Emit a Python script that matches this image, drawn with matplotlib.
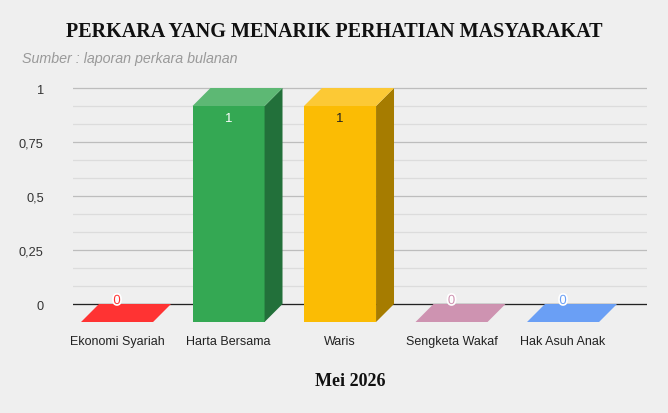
import matplotlib
matplotlib.use("Agg")
import matplotlib.pyplot as plt
import matplotlib.patheffects as pe
from matplotlib.patches import Polygon
import numpy as np

# === Data ===
categories = ["Ekonomi Syariah", "Harta Bersama", "Waris", "Sengketa Wakaf", "Hak Asuh Anak"]
values = [0, 1, 1, 0, 0]
front_colors = ["#FF3333", "#34A853", "#FBBC04", "#CE93B1", "#6A9FF5"]
top_colors = ["#FF3333", "#5DB874", "#FCC935", "#CE93B1", "#6A9FF5"]
side_colors = ["#B22222", "#22703A", "#A67C00", "#90667B", "#4A6FAB"]
label_colors = ["#FF3333", "#FFFFFF", "#222222", "#CE93B1", "#6A9FF5"]
y_ticks = [0, 0.25, 0.5, 0.75, 1]
y_ticklabels = ["0", "0,25", "0,5", "0,75", "1"]

# 3D look: depth offset (category units / value units) and bar width
dx = 0.161
dy = 0.0833
bar_w = 0.646

W, H = 668, 414
fig = plt.figure(figsize=(W / 100, H / 100), dpi=100)
fig.patch.set_facecolor("#EFEFEF")
ax = fig.add_axes([73 / W, (H - 330) / H, 574 / W, 250 / H])
ax.set_facecolor("#EFEFEF")
ax.set_xlim(-0.556, 4.592)
ax.set_ylim(-0.1157, 1.0417)

# === Grid on back wall ===
for g in np.arange(0, 1.0001, 0.25 / 3):
    major = abs(g * 4 - round(g * 4)) < 1e-6
    ax.axhline(g, color="#BDBDBD" if major else "#DCDCDC", lw=0.9, zorder=1)
ax.axhline(0, color="#222222", lw=0.9, zorder=2)

# === Bars ===
x = np.arange(len(categories))
for i, v in enumerate(values):
    l, r = x[i] - bar_w / 2, x[i] + bar_w / 2
    front = Polygon([(l - dx, -dy), (r - dx, -dy), (r - dx, v - dy), (l - dx, v - dy)],
                    closed=True, facecolor=front_colors[i], edgecolor="none", zorder=3)
    side = Polygon([(r - dx, -dy), (r, 0), (r, v), (r - dx, v - dy)],
                   closed=True, facecolor=side_colors[i], edgecolor="none", zorder=3)
    top = Polygon([(l - dx, v - dy), (r - dx, v - dy), (r, v), (l, v)],
                  closed=True, facecolor=top_colors[i], edgecolor="none", zorder=4)
    for p in (front, side, top):
        p.set_clip_on(False)
        ax.add_patch(p)

    # data labels
    if v > 0:
        ax.text(x[i] - dx, v - dy - 0.056, f"{v}", ha="center", va="center",
                fontsize=9.5, color=label_colors[i], family="Liberation Sans", zorder=5)
    else:
        ax.text(x[i] - dx, 0.014, f"{v}", ha="center", va="center",
                fontsize=9.5, color=label_colors[i], family="Liberation Sans", zorder=5,
                path_effects=[pe.withStroke(linewidth=2.5, foreground="white")])

# === Axes ===
ax.set_yticks(y_ticks)
ax.set_yticklabels(y_ticklabels, family="Liberation Sans", fontsize=9.2, color="#333333")
ax.set_xticks(x - dx)
ax.set_xticklabels(categories, family="Liberation Sans", fontsize=9, color="#222222")
ax.tick_params(axis="y", length=0, pad=21)
ax.tick_params(axis="x", length=0, pad=4)
for s in ax.spines.values():
    s.set_visible(False)

# === Titles ===
fig.text(0.5, 1 - 32 / H, "PERKARA YANG MENARIK PERHATIAN MASYARAKAT",
         ha="center", va="center", family="Liberation Serif", fontweight="bold",
         fontsize=14.5, color="#111111")
fig.text(22 / W, 1 - 59 / H, "Sumber : laporan perkara bulanan",
         ha="left", va="center", family="Liberation Sans", style="italic",
         fontsize=10.3, color="#999999")
fig.text(350 / W, 1 - 382 / H, "Mei 2026",
         ha="center", va="center", family="Liberation Serif", fontweight="bold",
         fontsize=13, color="#111111")

fig.savefig("out.png", dpi=100, facecolor=fig.get_facecolor())
